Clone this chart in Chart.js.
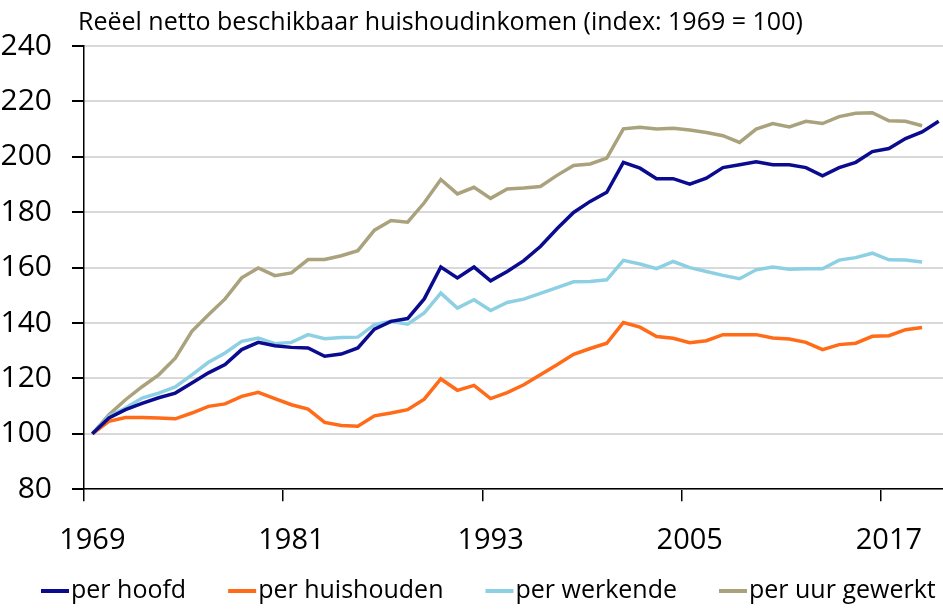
<!DOCTYPE html>
<html lang="nl">
<head>
<meta charset="UTF-8">
<title>Reëel netto beschikbaar huishoudinkomen</title>
<style>
    body { margin: 0; overflow: hidden; background: #fff; }
    .chartBox { position: relative; width: 950px; height: 612px; }
</style>
</head>
<body>
<div class="chartBox">
    <canvas id="myChart"></canvas>
</div>
<script src="https://cdn.jsdelivr.net/npm/chart.js"></script>
<script>
const titleText = 'Reëel netto beschikbaar huishoudinkomen (index: 1969 = 100)';

const years = ['1969','1970','1971','1972','1973','1974','1975','1976','1977','1978',
    '1979','1980','1981','1982','1983','1984','1985','1986','1987','1988',
    '1989','1990','1991','1992','1993','1994','1995','1996','1997','1998',
    '1999','2000','2001','2002','2003','2004','2005','2006','2007','2008',
    '2009','2010','2011','2012','2013','2014','2015','2016','2017','2018',
    '2019','2020'];
const shownYears = ['1969','1981','1993','2005','2017'];

const perHoofd = [100, 105.7, 108.7, 111, 113, 114.7, 118.3, 122, 125, 130.4,
    133, 131.8, 131.2, 131, 128, 128.8, 131, 137.8, 140.6, 141.6,
    148.7, 160.2, 156.3, 160.2, 155.2, 158.6, 162.5, 167.6, 174, 179.9,
    183.9, 187.2, 198, 195.9, 192.1, 192.1, 190.1, 192.3, 196.1, 197.1,
    198.2, 197.1, 197.1, 196.1, 193.1, 196.1, 198, 201.9, 203, 206.6,
    209, 212.8];
const perHuishouden = [100, 104.5, 105.9, 105.9, 105.7, 105.4, 107.5, 109.9, 110.8, 113.5,
    115, 112.7, 110.5, 108.9, 104.1, 103, 102.7, 106.5, 107.5, 108.7,
    112.5, 119.8, 115.7, 117.5, 112.7, 114.9, 117.7, 121.3, 124.9, 128.7,
    130.8, 132.7, 140.2, 138.5, 135.1, 134.5, 132.9, 133.6, 135.8, 135.8,
    135.8, 134.6, 134.2, 133, 130.4, 132.2, 132.7, 135.2, 135.4, 137.6,
    138.4];
const perWerkende = [100, 106.3, 109.3, 112.9, 114.7, 116.9, 121.3, 125.8, 129.2, 133.4,
    134.6, 132.5, 133, 135.8, 134.3, 134.8, 134.9, 139.4, 140.6, 139.6,
    143.6, 150.8, 145.4, 148.4, 144.5, 147.4, 148.6, 150.7, 152.8, 154.9,
    155, 155.6, 162.6, 161.3, 159.6, 162.2, 160, 158.6, 157.2, 156,
    159.2, 160.2, 159.4, 159.6, 159.6, 162.7, 163.6, 165.2, 162.8, 162.7,
    162];
const perUurGewerkt = [100, 106.9, 112.3, 117, 121.3, 127.3, 137, 143, 148.7, 156.3,
    159.9, 157.1, 158.1, 162.9, 162.9, 164.3, 166.1, 173.5, 177, 176.4,
    183.4, 191.8, 186.6, 189, 185, 188.4, 188.7, 189.3, 193.3, 196.9,
    197.4, 199.5, 210.1, 210.7, 210, 210.3, 209.7, 208.8, 207.6, 205.2,
    210, 212, 210.8, 212.8, 212, 214.5, 215.7, 215.9, 213, 212.8,
    211.2];

const seriesNames = ['per hoofd', 'per huishouden', 'per werkende', 'per uur gewerkt'];
const seriesColors = ['#0b0b8f', '#ff6b17', '#8ed0e3', '#a9a27d'];
const seriesData = [perHoofd, perHuishouden, perWerkende, perUurGewerkt];

Chart.defaults.font.family = '"Open Sans", "Noto Sans", sans-serif';
Chart.defaults.color = '#000';

// title over the plot + a compact legend row (Excel style: short line, text right after it)
const textPlugin = {
    id: 'textBits',
    afterDraw(chart) {
        const c = chart.ctx;
        c.save();
        c.fillStyle = '#000';
        c.font = '25px "Open Sans"';
        c.textBaseline = 'alphabetic';
        c.fillText(titleText, 78, 30);

        c.textBaseline = 'middle';
        let x = 41;
        const y = 591;
        chart.data.datasets.forEach(ds => {
            c.fillStyle = ds.borderColor;
            c.fillRect(x, y - 2, 28, 4);
            c.fillStyle = '#000';
            c.fillText(ds.label, x + 30, y);
            x += 30 + c.measureText(ds.label).width + 42;
        });
        c.restore();
    }
};

const ctx = document.getElementById('myChart').getContext('2d');
const myChart = new Chart(ctx, {
    type: 'line',
    data: {
        labels: years,
        datasets: seriesData.map((d, i) => ({
            label: seriesNames[i],
            data: d,
            borderColor: seriesColors[i],
            backgroundColor: seriesColors[i],
            borderWidth: 3.5,
            pointRadius: 0,
            tension: 0,
            fill: false
        }))
    },
    options: {
        responsive: true,
        maintainAspectRatio: false,
        animation: false,
        devicePixelRatio: 1,
        layout: { padding: { top: 46, right: 3, left: 0, bottom: 32 } },
        plugins: {
            title: { display: false },
            tooltip: { enabled: false },
            legend: { display: false }
        },
        scales: {
            x: {
                offset: true,
                grid: {
                    offset: true,
                    drawOnChartArea: false,
                    tickLength: 12,
                    lineWidth: 1.5,
                    color: c => (c.index % 12 === 0 ? '#000' : 'rgba(0,0,0,0)')
                },
                border: { color: '#000', width: 1.5 },
                ticks: {
                    autoSkip: false,
                    maxRotation: 0,
                    padding: 22,
                    font: { size: 29 },
                    color: '#000',
                    callback(v) {
                        const l = this.getLabelForValue(v);
                        return shownYears.includes(l) ? l : '';
                    }
                },
                afterFit(s) { s.paddingLeft = 0; s.paddingRight = 0; }
            },
            y: {
                min: 80,
                max: 240,
                grid: { color: '#d9d9d9', lineWidth: 2, tickColor: '#000', tickLength: 12 },
                border: { color: '#000', width: 1.5 },
                ticks: { stepSize: 20, padding: 20, font: { size: 30 }, color: '#000' },
                afterFit(s) { s.width = 84; s.paddingTop = 0; s.paddingBottom = 0; }
            }
        }
    },
    plugins: [textPlugin]
});
</script>
</body>
</html>
